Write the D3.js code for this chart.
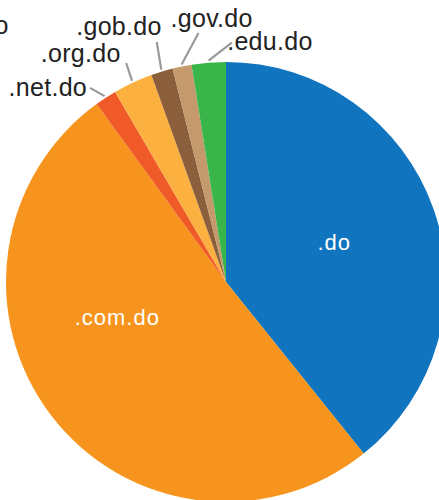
<!DOCTYPE html>
<html>
<head>
<meta charset="utf-8">
<script src="https://cdn.jsdelivr.net/npm/d3@7"></script>
<style>
  body { margin: 0; background: #fff; }
  svg { display: block; font-family: "Liberation Sans", Arial, Helvetica, sans-serif; }
</style>
</head>
<body>
<svg id="chart"></svg>
<script>
// domain shares (percent)
const domains = ['.do', '.com.do', '.net.do', '.org.do', '.gob.do', '.gov.do', '.edu.do'];
const shares = [39.2, 50.7, 1.6, 2.9, 1.6, 1.4, 2.5];
const colors = ['#1174be', '#f7941d', '#f05a28', '#fbb040', '#8b5e3c', '#c49a6c', '#39b54a'];
const insideLabels = ['.do', '.com.do'];

// leader line end (angle in deg, radius) and text offsets for the small slices
const outsideLayout = {
    '.net.do': { angle: -35.0, radius: 237, dx: -3, dy: 7.7, anchor: 'end' },
    '.org.do': { angle: -24.5, radius: 240.7, dx: -5.5, dy: -0.5, anchor: 'end' },
    '.gob.do': { angle: -16.1, radius: 249.8, dx: 5, dy: -7, anchor: 'end' },
    '.gov.do': { angle: -6.3, radius: 250.5, dx: -28, dy: -6.3, anchor: 'start' },
    '.edu.do': { angle: 1.4, radius: 239.4, dx: -4.7, dy: 7.8, anchor: 'start' }
};
// the big orange label sits off its mid angle
const insideShift = { '.do': 0, '.com.do': 18.8 };

const width = 439, height = 500;
const cx = 226, cy = 282, radius = 220;

const svg = d3.select('#chart')
    .attr('width', width)
    .attr('height', height);

// title is cut off at the left edge, only its last letter shows
svg.append('text')
    .attr('x', 8.5)
    .attr('y', 33.5)
    .attr('text-anchor', 'end')
    .attr('fill', '#222')
    .style('font-size', '25px')
    .text('Dominios .do');

const g = svg.append('g')
    .attr('transform', `translate(${cx}, ${cy})`);

const data = domains.map((d, i) => ({ name: d, value: shares[i] }));

const color = d3.scaleOrdinal()
    .domain(domains)
    .range(colors);

const pie = d3.pie()
    .sort(null)
    .value(d => d.value);

const arcs = pie(data);

const arc = d3.arc()
    .innerRadius(0)
    .outerRadius(radius);

g.selectAll('path.slice')
    .data(arcs)
    .join('path')
    .attr('class', 'slice')
    .attr('d', arc)
    .attr('fill', d => color(d.data.name));

const polar = (a, r) => [r * Math.sin(a), -r * Math.cos(a)];
const midAngle = d => (d.startAngle + d.endAngle) / 2;
const rad = deg => deg * Math.PI / 180;

// labels inside the two big slices
g.selectAll('text.inside')
    .data(arcs.filter(d => insideLabels.includes(d.data.name)))
    .join('text')
    .attr('class', 'inside')
    .attr('x', d => polar(midAngle(d) + rad(insideShift[d.data.name]), 114.7)[0])
    .attr('y', d => polar(midAngle(d) + rad(insideShift[d.data.name]), 114.7)[1] + 6)
    .attr('text-anchor', 'middle')
    .attr('fill', '#fff')
    .style('font-size', '22px')
    .style('letter-spacing', '1px')
    .text(d => d.data.name);

// leader lines + labels for the small slices
const small = arcs.filter(d => outsideLayout[d.data.name]);

g.selectAll('line.leader')
    .data(small)
    .join('line')
    .attr('class', 'leader')
    .attr('x1', d => polar(midAngle(d), radius + 2)[0])
    .attr('y1', d => polar(midAngle(d), radius + 2)[1])
    .attr('x2', d => { const L = outsideLayout[d.data.name]; return polar(rad(L.angle), L.radius)[0]; })
    .attr('y2', d => { const L = outsideLayout[d.data.name]; return polar(rad(L.angle), L.radius)[1]; })
    .attr('stroke', '#9a9a9a')
    .attr('stroke-width', 2.2);

g.selectAll('text.outside')
    .data(small)
    .join('text')
    .attr('class', 'outside')
    .attr('x', d => { const L = outsideLayout[d.data.name]; return polar(rad(L.angle), L.radius)[0] + L.dx; })
    .attr('y', d => { const L = outsideLayout[d.data.name]; return polar(rad(L.angle), L.radius)[1] + L.dy; })
    .attr('text-anchor', d => outsideLayout[d.data.name].anchor)
    .attr('fill', '#222')
    .style('font-size', '25px')
    .style('letter-spacing', '0.3px')
    .text(d => d.data.name);
</script>
</body>
</html>
